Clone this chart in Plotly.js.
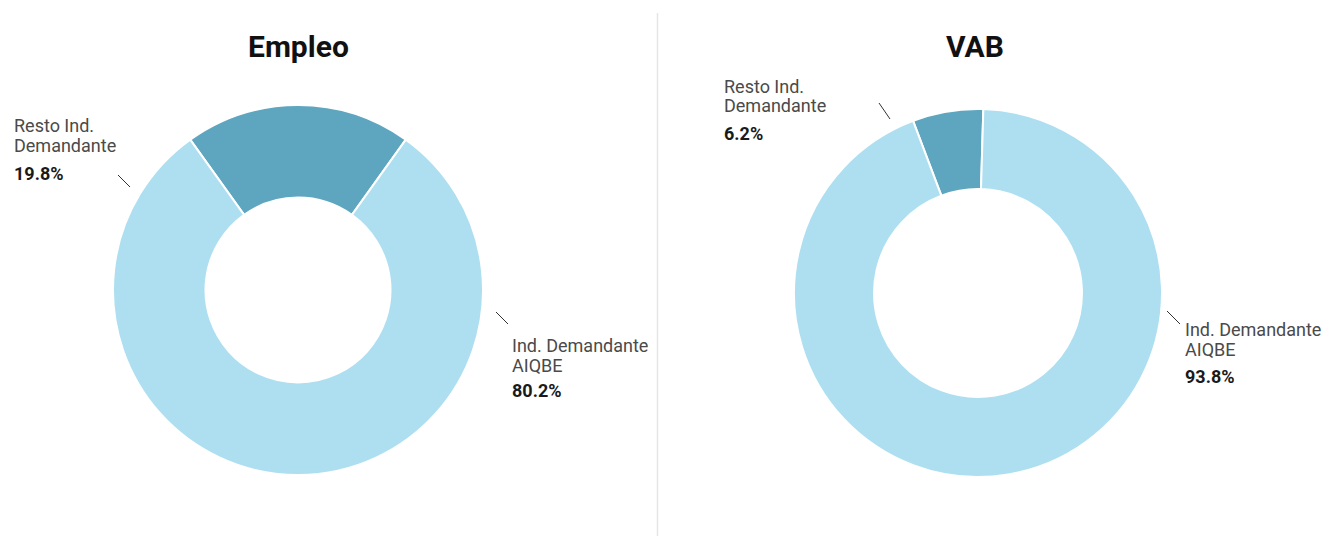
<!DOCTYPE html>
<html>
<head>
<meta charset="utf-8">
<script src="https://cdn.plot.ly/plotly-3.0.1.min.js"></script>
<style>html,body{margin:0;padding:0;background:#fff;}#chart{width:1324px;height:536px;}</style>
</head>
<body>
<div id="chart"></div>
<script>
// ---- data ----
const chartTitles = ["Empleo", "VAB"];
const categories = ["Resto Ind.<br>Demandante", "Ind. Demandante<br>AIQBE"];
const empleoValues = [19.8, 80.2];
const vabValues = [6.2, 93.8];
const sliceColors = ["#5EA6BF", "#ADDFF1"];

// ---- layout helpers ----
const W = 1324, H = 536;
const px = x => x / W;
const py = y => 1 - y / H;
const FONT = "Roboto, 'Noto Sans', sans-serif";

function pieTrace(values, domain, hole, rotation, name) {
  return {
    type: "pie",
    name: name,
    labels: categories,
    values: values,
    sort: false,
    direction: "clockwise",
    rotation: rotation,
    hole: hole,
    domain: domain,
    textinfo: "none",
    hovertemplate: "%{label}<br>%{value:.1f}%<extra></extra>",
    marker: { colors: sliceColors, line: { color: "#ffffff", width: 2 } },
    showlegend: false
  };
}

// first slice centred at a given angle
const rotEmpleo = -empleoValues[0] / 100 * 360 / 2;
const rotVab = -9.5 - vabValues[0] / 100 * 360 / 2;

const traces = [
  pieTrace(empleoValues, { x: [px(113), px(483)], y: [py(475), py(105)] }, 0.5, rotEmpleo, chartTitles[0]),
  pieTrace(vabValues, { x: [px(794), px(1162)], y: [py(477), py(109)] }, 0.565, rotVab, chartTitles[1])
];

// label placement (cap tops in px)
const labelPos = [
  [ { x: 12, lines: [118, 138], pct: 166, lx: [118, 130], ly: [175, 187] },
    { x: 510, lines: [338, 358], pct: 383, lx: [496, 508], ly: [312, 324] } ],
  [ { x: 722, lines: [79, 98], pct: 126, lx: [879, 890], ly: [103, 119] },
    { x: 1183, lines: [322, 342], pct: 369, lx: [1167, 1180], ly: [311, 324] } ]
];
const seriesValues = [empleoValues, vabValues];

const annotations = [];
const shapes = [];
// titles
[[298.5, 27], [975, 27]].forEach((p, i) => {
  annotations.push({
    xref: "paper", yref: "paper", x: px(p[0]), y: py(p[1]),
    xanchor: "center", yanchor: "top", showarrow: false,
    text: "<b>" + chartTitles[i] + "</b>",
    font: { family: FONT, size: 30, color: "#111111" }
  });
});
for (let c = 0; c < 2; c++) {
  for (let k = 0; k < categories.length; k++) {
    const pos = labelPos[c][k];
    const lines = categories[k].split("<br>");
    lines.forEach((ln, j) => {
      annotations.push({
        xref: "paper", yref: "paper", x: px(pos.x), y: py(pos.lines[j] - 5),
        xanchor: "left", yanchor: "top", showarrow: false, borderpad: 1,
        text: ln, font: { family: FONT, size: 18, color: "#4a4a4a" }
      });
    });
    annotations.push({
      xref: "paper", yref: "paper", x: px(pos.x), y: py(pos.pct - 5),
      xanchor: "left", yanchor: "top", showarrow: false, borderpad: 1,
      text: "<b>" + seriesValues[c][k].toFixed(1) + "%</b>",
      font: { family: FONT, size: 18, color: "#1a1a1a" }
    });
    shapes.push({
      type: "line", xref: "paper", yref: "paper",
      x0: px(pos.lx[0]), x1: px(pos.lx[1]), y0: py(pos.ly[0]), y1: py(pos.ly[1]),
      line: { color: "#333333", width: 1 }
    });
  }
}
// divider between the two charts
shapes.push({
  type: "line", xref: "paper", yref: "paper",
  x0: px(657.5), x1: px(657.5), y0: py(13), y1: py(536),
  line: { color: "#e6e6e6", width: 1.5 }
});

const layout = {
  width: W, height: H,
  margin: { l: 0, r: 0, t: 0, b: 0 },
  paper_bgcolor: "#ffffff",
  font: { family: FONT },
  annotations: annotations,
  shapes: shapes,
  showlegend: false
};

Plotly.newPlot("chart", traces, layout, { displayModeBar: false, staticPlot: false });
</script>
</body>
</html>
